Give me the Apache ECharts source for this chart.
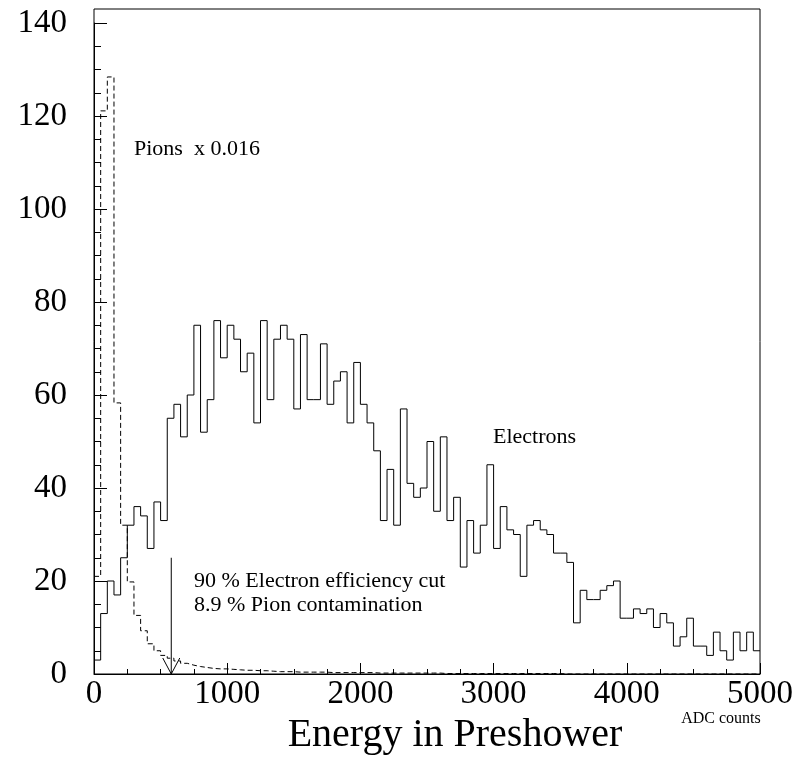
<!DOCTYPE html>
<html>
<head>
<meta charset="utf-8">
<script src="https://cdn.jsdelivr.net/npm/echarts@6/dist/echarts.min.js"></script>
<style>
html,body{margin:0;padding:0;background:#fff;}
#chart{width:799px;height:759px;}
</style>
</head>
<body>
<div id="chart"></div>
<script>
// ---- data (ADC counts, bin width 50, 100 bins from 0 to 5000) ----
const binWidth = 50;
const electrons = [
  3, 13, 20, 17, 25, 32, 36, 34, 27, 37,
  33, 55, 58, 51, 60, 75, 52, 59, 76, 68,
  75, 72, 65, 69, 54, 76, 59, 72, 75, 72,
  57, 73, 59, 59, 71, 58, 63, 65, 54, 67,
  58, 54, 48, 33, 44, 32, 57, 41, 38, 40,
  50, 35, 51, 33, 38, 23, 33, 26, 32, 45,
  27, 36, 31, 30, 21, 32, 33, 31, 30, 26,
  26, 24, 11, 18, 16, 16, 18, 19, 20, 12,
  12, 14, 13, 14, 10, 13, 11, 6, 8, 12,
  6, 6, 4, 9, 5, 3, 9, 5, 9, 5
];
const pions = [
  21.0, 121.1, 128.4, 58.3, 32.0, 19.8, 12.6, 9.3, 6.5, 5.0,
  4.0, 3.4, 2.8, 2.3, 1.9, 1.6, 1.4, 1.2, 1.1, 1.1,
  1.0, 0.9, 0.8, 0.8, 0.7, 0.7, 0.6, 0.5, 0.5, 0.5,
  0.4, 0.4, 0.4, 0.4, 0.4, 0.3, 0.3, 0.3, 0.3, 0.3,
  0.3, 0.3, 0.2, 0.2, 0.2, 0.2, 0.2, 0.2, 0.2, 0.2,
  0.2, 0.2, 0.1, 0.1, 0.1, 0.1, 0.1, 0.1, 0.1, 0.1,
  0.1, 0.1, 0.1, 0.1, 0.1, 0.1, 0.1, 0.1, 0.1, 0.1,
  0, 0, 0, 0, 0, 0, 0, 0, 0, 0,
  0, 0, 0, 0, 0, 0, 0, 0, 0, 0,
  0, 0, 0, 0, 0, 0, 0, 0, 0, 0
];
const xTicks = [0, 1000, 2000, 3000, 4000, 5000];
const yTicks = [0, 20, 40, 60, 80, 100, 120, 140];
const cutValue = 580;      // ADC counts of the cut
const cutArrowTop = 25;    // arrow starts at this count
const labels = {
  pions: 'Pions  x 0.016',
  electrons: 'Electrons',
  cut1: '90 % Electron efficiency cut',
  cut2: '8.9 % Pion contamination',
  xTitle: 'Energy in Preshower',
  xUnit: 'ADC counts'
};

function histData(vals) {
  const d = vals.map((v, i) => [i * binWidth, v]);
  d.push([vals.length * binWidth, vals[vals.length - 1]]);
  return d;
}

const FONT = '"Liberation Serif", "Times New Roman", serif';
const chart = echarts.init(document.getElementById('chart'), null, {renderer: 'canvas'});

const option = {
  backgroundColor: '#fff',
  animation: false,
  grid: [
    {left: 94, right: 39, top: 23, bottom: 85, show: false},
    {left: 94, right: 39, top: 9, bottom: 85, show: true, borderColor: '#000', borderWidth: 1, backgroundColor: 'transparent'}
  ],
  xAxis: [
    {
      type: 'value', gridIndex: 0,
      min: xTicks[0], max: xTicks[xTicks.length - 1], interval: xTicks[1] - xTicks[0],
      axisLine: {show: true, lineStyle: {color: '#000', width: 1}},
      axisTick: {show: true, inside: true, length: 11, lineStyle: {color: '#000'}},
      minorTick: {show: true, splitNumber: 4, length: 5, lineStyle: {color: '#000'}},
      splitLine: {show: false},
      axisLabel: {color: '#000', fontFamily: FONT, fontSize: 33, margin: 4, formatter: v => String(v)}
    },
    {type: 'value', gridIndex: 1, show: false, min: 0, max: 1}
  ],
  yAxis: [
    {
      type: 'value', gridIndex: 0,
      min: yTicks[0], max: yTicks[yTicks.length - 1], interval: yTicks[1] - yTicks[0],
      axisLine: {show: true, lineStyle: {color: '#000', width: 1}},
      axisTick: {show: true, inside: true, length: 13, lineStyle: {color: '#000'}},
      minorTick: {show: true, splitNumber: 4, length: 7, lineStyle: {color: '#000'}},
      splitLine: {show: false},
      axisLabel: {color: '#000', fontFamily: FONT, fontSize: 33, margin: 27, formatter: v => String(v)}
    },
    {type: 'value', gridIndex: 1, show: false, min: 0, max: 1}
  ],
  series: [
    {
      name: 'Electrons', type: 'line', step: 'end', xAxisIndex: 0, yAxisIndex: 0,
      data: histData(electrons), symbol: 'none', clip: true,
      lineStyle: {color: '#000', width: 1}
    },
    {
      name: 'Pions', type: 'line', step: 'end', xAxisIndex: 0, yAxisIndex: 0,
      data: histData(pions), symbol: 'none', clip: true,
      lineStyle: {color: '#000', width: 1, type: [5, 3]}
    },
    {
      name: 'cut', type: 'custom', xAxisIndex: 0, yAxisIndex: 0,
      data: [[cutValue, cutArrowTop]],
      renderItem: function (params, api) {
        const top = api.coord([api.value(0), api.value(1)]);
        const bot = api.coord([api.value(0), 0]);
        return {
          type: 'group',
          children: [
            {type: 'line', shape: {x1: top[0], y1: top[1], x2: bot[0], y2: bot[1]}, style: {stroke: '#000', lineWidth: 1}},
            {type: 'polyline', shape: {points: [[bot[0] - 8.5, bot[1] - 16], [bot[0], bot[1]], [bot[0] + 8.5, bot[1] - 16]]}, style: {stroke: '#000', lineWidth: 1, fill: null}}
          ]
        };
      }
    }
  ],
  graphic: [
    {type: 'text', left: 134, top: 138, style: {text: labels.pions, font: '22px ' + FONT, fill: '#000'}},
    {type: 'text', left: 493, top: 426, style: {text: labels.electrons, font: '22px ' + FONT, fill: '#000'}},
    {type: 'text', left: 194, top: 570, style: {text: labels.cut1, font: '22px ' + FONT, fill: '#000'}},
    {type: 'text', left: 194, top: 594, style: {text: labels.cut2, font: '22px ' + FONT, fill: '#000'}},
    {type: 'text', x: 455, y: 735, style: {text: labels.xTitle, font: '40px ' + FONT, fill: '#000', textAlign: 'center', textVerticalAlign: 'middle'}},
    {type: 'text', x: 721, y: 719, style: {text: labels.xUnit, font: '16px ' + FONT, fill: '#000', textAlign: 'center', textVerticalAlign: 'middle'}}
  ]
};
chart.setOption(option);
</script>
</body>
</html>
